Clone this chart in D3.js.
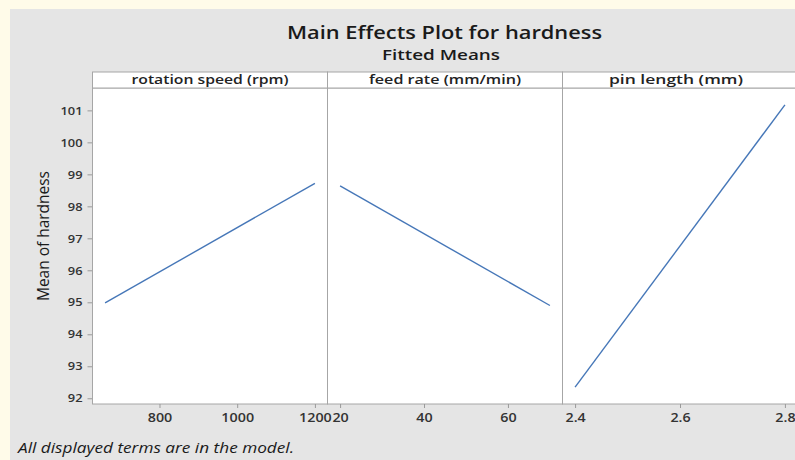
<!DOCTYPE html>
<html lang="en">
<head>
<meta charset="UTF-8">
<title>Main Effects Plot for hardness</title>
<script src="https://cdn.jsdelivr.net/npm/d3@7"></script>
<style>
    body { margin: 0; background: #fffbe9; }
    svg { display: block; font-family: "Open Sans", "Noto Sans", sans-serif; }
</style>
</head>
<body>
<div id="chart"></div>
<script>
    // factors and their fitted means (low level, high level)
    const factors = ["rotation speed (rpm)", "feed rate (mm/min)", "pin length (mm)"];
    const levels = [[660, 1200], [20, 70], [2.4, 2.8]];
    const means = [[94.98, 98.72], [98.64, 94.90], [92.35, 101.17]];
    const xTicks = [[800, 1000, 1200], [20, 40, 60], [2.4, 2.6, 2.8]];
    const yTicks = [92, 93, 94, 95, 96, 97, 98, 99, 100, 101];

    const width = 795, height = 460;
    const plotLeft = 92.5, plotTop = 88, plotBottom = 404, panelW = 235;
    const pad = 0.06;
    const labelLen = [157, 152, 134];

    // the picture is a bit wider than the fonts, so stretch the labels
    function stretch(sel, sx) {
        sel.each(function () {
            const t = d3.select(this), x = +t.attr("x") || 0;
            t.attr("transform", `translate(${x},0) scale(${sx},1) translate(${-x},0)`);
        });
    }

    const svg = d3.select("#chart").append("svg")
        .attr("width", width).attr("height", height);

    svg.append("rect").attr("x", 10).attr("y", 9)
        .attr("width", width - 10).attr("height", height - 9)
        .attr("fill", "#e5e5e5");

    // titles
    svg.append("text").attr("x", 444.5).attr("y", 39)
        .attr("text-anchor", "middle").attr("font-size", 18.5).attr("font-weight", 600)
        .attr("textLength", 315).attr("lengthAdjust", "spacingAndGlyphs")
        .attr("fill", "#1a1a1a").text("Main Effects Plot for hardness");
    svg.append("text").attr("x", 441).attr("y", 60)
        .attr("text-anchor", "middle").attr("font-size", 15).attr("font-weight", 600)
        .attr("textLength", 118).attr("lengthAdjust", "spacingAndGlyphs")
        .attr("fill", "#1a1a1a").text("Fitted Means");

    // shared y scale
    const allMeans = means.flat();
    const yMin = d3.min(allMeans), yMax = d3.max(allMeans), yr = yMax - yMin;
    const y = d3.scaleLinear().domain([yMin - pad * yr, yMax + pad * yr]).range([plotBottom, plotTop]);

    const yAxis = svg.append("g").attr("transform", `translate(${plotLeft},0)`)
        .call(d3.axisLeft(y).tickValues(yTicks).tickSize(5).tickPadding(5));
    yAxis.select(".domain").remove();
    yAxis.selectAll(".tick line").attr("stroke", "#9a9a9a");
    yAxis.selectAll(".tick text").attr("font-size", 11.5).attr("font-weight", 600)
        .attr("fill", "#333").attr("font-family", "Open Sans, sans-serif")
        .call(stretch, 1.12);

    svg.append("text")
        .attr("transform", `translate(49,236) rotate(-90)`)
        .attr("text-anchor", "middle").attr("font-size", 17)
        .attr("textLength", 130).attr("lengthAdjust", "spacingAndGlyphs")
        .attr("fill", "#1a1a1a").text("Mean of hardness");

    factors.forEach((f, i) => {
        const x0 = plotLeft + i * panelW;
        const [lo, hi] = levels[i], r = hi - lo;
        const x = d3.scaleLinear().domain([lo - pad * r, hi + pad * r]).range([x0, x0 + panelW]);

        const g = svg.append("g");
        g.append("rect").attr("x", x0).attr("y", plotTop)
            .attr("width", panelW).attr("height", plotBottom - plotTop)
            .attr("fill", "#fff").attr("stroke", "#a6a6a6");

        // strip
        g.append("rect").attr("x", x0).attr("y", 72)
            .attr("width", panelW).attr("height", plotTop - 72)
            .attr("fill", "#fff").attr("stroke", "#a6a6a6");
        g.append("text").attr("x", x0 + panelW / 2 - (i === 2 ? 4 : 0)).attr("y", 84)
            .attr("text-anchor", "middle").attr("font-size", 13).attr("font-weight", 600)
            .attr("textLength", labelLen[i]).attr("lengthAdjust", "spacingAndGlyphs")
            .attr("fill", "#222").text(f);

        const xAxis = g.append("g").attr("transform", `translate(0,${plotBottom})`)
            .call(d3.axisBottom(x).tickValues(xTicks[i]).tickSize(4).tickPadding(5)
                .tickFormat(d3.format(i === 2 ? ".1f" : "d")));
        xAxis.select(".domain").remove();
        xAxis.selectAll(".tick line").attr("stroke", "#9a9a9a");
        xAxis.selectAll(".tick text").attr("font-size", 13).attr("font-weight", 600)
            .attr("fill", "#333").attr("font-family", "Open Sans, sans-serif")
            .call(stretch, 1.1);

        g.append("path")
            .datum(levels[i].map((lv, j) => [lv, means[i][j]]))
            .attr("d", d3.line().x(d => x(d[0])).y(d => y(d[1])))
            .attr("fill", "none").attr("stroke", "#4677b8").attr("stroke-width", 1.4);
    });

    svg.append("text").attr("x", 18).attr("y", 453)
        .attr("font-size", 14).attr("font-style", "italic")
        .attr("textLength", 276).attr("lengthAdjust", "spacingAndGlyphs")
        .attr("fill", "#1a1a1a").text("All displayed terms are in the model.");
</script>
</body>
</html>
